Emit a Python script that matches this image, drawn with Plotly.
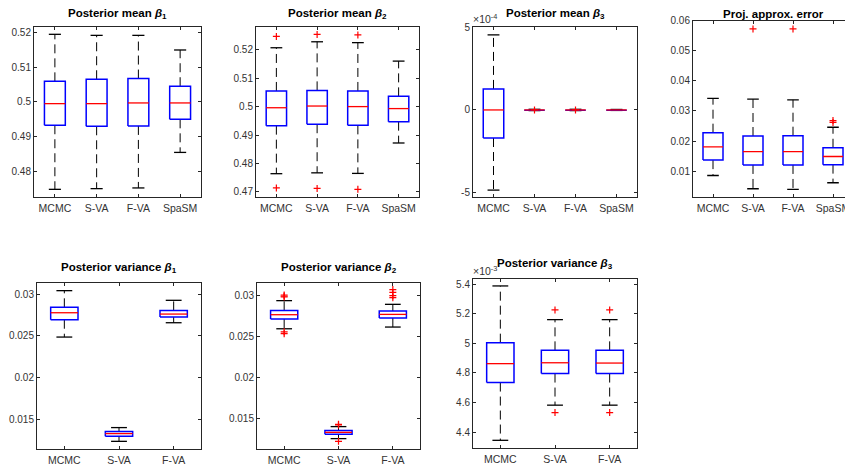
import plotly.graph_objects as go

W, H = 853, 473

# ---------------- data ----------------
cats4 = ["MCMC", "S-VA", "F-VA", "SpaSM"]
cats3 = ["MCMC", "S-VA", "F-VA"]

# Posterior mean beta_1
m1_upper = [0.5194, 0.5191, 0.5191, 0.5149]
m1_q3 = [0.5059, 0.5065, 0.5067, 0.5045]
m1_med = [0.4995, 0.4995, 0.4997, 0.4997]
m1_q1 = [0.4933, 0.4930, 0.4931, 0.4950]
m1_lower = [0.4749, 0.4751, 0.4753, 0.4855]
m1_out = [[], [], [], []]

# Posterior mean beta_2
m2_upper = [0.5207, 0.5228, 0.5225, 0.5160]
m2_q3 = [0.5055, 0.5057, 0.5055, 0.5036]
m2_med = [0.4996, 0.5002, 0.5000, 0.4993]
m2_q1 = [0.4933, 0.4938, 0.4934, 0.4947]
m2_lower = [0.4764, 0.4767, 0.4765, 0.4872]
m2_out = [[0.5247, 0.4714], [0.5254, 0.4712], [0.5252, 0.4709], []]

# Posterior mean beta_3
m3_upper = [4.57e-4, 0.04e-4, 0.04e-4, 0.03e-4]
m3_q3 = [1.28e-4, 0.02e-4, 0.02e-4, 0.02e-4]
m3_med = [0.0, 0.0, 0.0, 0.0]
m3_q1 = [-1.71e-4, -0.02e-4, -0.02e-4, -0.02e-4]
m3_lower = [-4.88e-4, -0.04e-4, -0.04e-4, -0.03e-4]
m3_out = [[], [0.0], [0.0], []]

# Projection approximation error
pe_upper = [0.0342, 0.0339, 0.0337, 0.0246]
pe_q3 = [0.0228, 0.0217, 0.0218, 0.0178]
pe_med = [0.0181, 0.0165, 0.0165, 0.0149]
pe_q1 = [0.0137, 0.0121, 0.0121, 0.0122]
pe_lower = [0.0086, 0.0042, 0.0040, 0.0062]
pe_out = [[], [0.0572], [0.0572], [0.0268, 0.0262]]

# Posterior variance beta_1
v1_upper = [0.03044, 0.01400, 0.02928]
v1_q3 = [0.02844, 0.01352, 0.02807]
v1_med = [0.02779, 0.01328, 0.02763]
v1_q1 = [0.02695, 0.01295, 0.02727]
v1_lower = [0.02487, 0.01235, 0.02659]
v1_out = [[], [], []]

# Posterior variance beta_2
v2_upper = [0.02939, 0.01398, 0.02894]
v2_q3 = [0.02820, 0.01349, 0.02812]
v2_med = [0.02767, 0.01328, 0.02771]
v2_q1 = [0.02714, 0.01304, 0.02726]
v2_lower = [0.02595, 0.01251, 0.02616]
v2_out = [[0.03008, 0.02995, 0.02984, 0.02558, 0.02535],
          [0.01426, 0.01418, 0.01218],
          [0.03074, 0.03040, 0.03000, 0.02975]]

# Posterior variance beta_3
v3_upper = [5.389e-3, 5.161e-3, 5.161e-3]
v3_q3 = [5.005e-3, 4.953e-3, 4.953e-3]
v3_med = [4.863e-3, 4.869e-3, 4.867e-3]
v3_q1 = [4.735e-3, 4.796e-3, 4.796e-3]
v3_lower = [4.344e-3, 4.582e-3, 4.582e-3]
v3_out = [[], [5.227e-3, 4.532e-3], [5.227e-3, 4.532e-3]]

# tick labels
t1_vals = [0.48, 0.49, 0.50, 0.51, 0.52]
t1_text = ["0.48", "0.49", "0.5", "0.51", "0.52"]
t2_vals = [0.47, 0.48, 0.49, 0.50, 0.51, 0.52]
t2_text = ["0.47", "0.48", "0.49", "0.5", "0.51", "0.52"]
t3_vals = [-5e-4, 0.0, 5e-4]
t3_text = ["-5", "0", "5"]
t4_vals = [0.01, 0.02, 0.03, 0.04, 0.05, 0.06]
t4_text = ["0.01", "0.02", "0.03", "0.04", "0.05", "0.06"]
t5_vals = [0.015, 0.02, 0.025, 0.03]
t5_text = ["0.015", "0.02", "0.025", "0.03"]
t7_vals = [4.4e-3, 4.6e-3, 4.8e-3, 5.0e-3, 5.2e-3, 5.4e-3]
t7_text = ["4.4", "4.6", "4.8", "5", "5.2", "5.4"]

titles = [
    "<b>Posterior mean <i>β</i><sub>1</sub></b>",
    "<b>Posterior mean <i>β</i><sub>2</sub></b>",
    "<b>Posterior mean <i>β</i><sub>3</sub></b>",
    "<b>Proj. approx. error</b>",
    "<b>Posterior variance <i>β</i><sub>1</sub></b>",
    "<b>Posterior variance <i>β</i><sub>2</sub></b>",
    "<b>Posterior variance <i>β</i><sub>3</sub></b>",
]
exp_labels = ["", "", "×10<sup>-4</sup>", "", "", "", "×10<sup>-3</sup>"]

# ---------------- layout (screen pixel boxes: left, right, top, bottom) ----------------
OFF = 8  # page body margin offset of the figure on screen
boxes = [
    (34, 201, 27, 197),
    (256, 419, 27, 197),
    (473, 637, 27, 197),
    (693, 853, 20.5, 197),
    (37, 201, 283, 449),
    (257, 420, 283, 449),
    (473, 637, 279, 448),
]
title_shift = [4, 4, 4, -1.5, 6, 6, 6]
yranges = [
    [0.4727, 0.5215],
    [0.4682, 0.5280],
    [-5.3e-4, 5.05e-4],
    [0.00147, 0.0600],
    [0.01143, 0.03136],
    [0.01124, 0.03155],
    [4.292e-3, 5.436e-3],
]

panels = [
    (cats4, m1_upper, m1_q3, m1_med, m1_q1, m1_lower, m1_out, t1_vals, t1_text),
    (cats4, m2_upper, m2_q3, m2_med, m2_q1, m2_lower, m2_out, t2_vals, t2_text),
    (cats4, m3_upper, m3_q3, m3_med, m3_q1, m3_lower, m3_out, t3_vals, t3_text),
    (cats4, pe_upper, pe_q3, pe_med, pe_q1, pe_lower, pe_out, t4_vals, t4_text),
    (cats3, v1_upper, v1_q3, v1_med, v1_q1, v1_lower, v1_out, t5_vals, t5_text),
    (cats3, v2_upper, v2_q3, v2_med, v2_q1, v2_lower, v2_out, t5_vals, t5_text),
    (cats3, v3_upper, v3_q3, v3_med, v3_q1, v3_lower, v3_out, t7_vals, t7_text),
]

BW = 0.25   # half box width
CW = 0.145  # half cap width
FONT = "Liberation Sans Narrow, Arial Narrow, Liberation Sans, Arial, sans-serif"
AXC = "#262626"
TXC = "#333333"


def fx(p):
    return min(max((p - OFF) / W, 0.0), 1.0)


def fy(p):
    return min(max(1 - (p - OFF) / H, 0.0), 1.0)


fig = go.Figure()
layout = dict(
    width=W, height=H,
    margin=dict(l=0, r=0, t=0, b=0, autoexpand=False),
    paper_bgcolor="white", plot_bgcolor="white",
    showlegend=False,
    font=dict(family=FONT, size=11, color=AXC),
)
annotations = []

for k, (cats, up, q3, med, q1, lo, outs, tv, tt) in enumerate(panels):
    n = k + 1
    xs = "x" if n == 1 else f"x{n}"
    ys = "y" if n == 1 else f"y{n}"
    xname = "xaxis" if n == 1 else f"xaxis{n}"
    yname = "yaxis" if n == 1 else f"yaxis{n}"
    pos = list(range(1, len(cats) + 1))

    wx, wy, bx, by, mx, my, cx, cy, ox, oy = [], [], [], [], [], [], [], [], [], []
    for p, a, b, c, d, e, o in zip(pos, up, q3, med, q1, lo, outs):
        wx += [p, p, None, p, p, None]
        wy += [b, a, None, d, e, None]
        bx += [p - BW, p + BW, p + BW, p - BW, p - BW, None]
        by += [d, d, b, b, d, None]
        mx += [p - BW, p + BW, None]
        my += [c, c, None]
        cx += [p - CW, p + CW, None, p - CW, p + CW, None]
        cy += [a, a, None, e, e, None]
        ox += [p] * len(o)
        oy += list(o)

    fig.add_trace(go.Scatter(x=wx, y=wy, mode="lines", xaxis=xs, yaxis=ys,
                             line=dict(color="black", width=1, dash="9px,5px"),
                             hoverinfo="skip"))
    fig.add_trace(go.Scatter(x=cx, y=cy, mode="lines", xaxis=xs, yaxis=ys,
                             line=dict(color="black", width=1.3), hoverinfo="skip"))
    fig.add_trace(go.Scatter(x=bx, y=by, mode="lines", xaxis=xs, yaxis=ys,
                             line=dict(color="#0000ff", width=1.5), hoverinfo="skip"))
    fig.add_trace(go.Scatter(x=mx, y=my, mode="lines", xaxis=xs, yaxis=ys,
                             line=dict(color="#ff0000", width=1.3), hoverinfo="skip"))
    if ox:
        fig.add_trace(go.Scatter(x=ox, y=oy, mode="markers", xaxis=xs, yaxis=ys,
                                 marker=dict(symbol="cross-thin", size=5,
                                             color="#ff0000",
                                             line=dict(color="#ff0000", width=1.2)),
                                 hoverinfo="skip"))

    l, r, t, b_ = boxes[k]
    common = dict(showline=True, linecolor=AXC, linewidth=1, mirror="ticks",
                  ticks="inside", ticklen=3, tickcolor=AXC, tickwidth=1,
                  showgrid=False, zeroline=False, automargin=False)
    layout[xname] = dict(domain=[fx(l), fx(r)], anchor=ys,
                         range=[0.5, len(cats) + 0.5],
                         tickvals=pos, ticktext=cats, ticklabelstandoff=1,
                         tickfont=dict(family=FONT, size=10.5, color=TXC), **common)
    layout[yname] = dict(domain=[fy(b_), fy(t)], anchor=xs,
                         range=yranges[k], tickvals=tv, ticktext=tt,
                         ticklabelstandoff=0,
                         tickfont=dict(family=FONT, size=10, color=TXC), **common)

    annotations.append(dict(text=titles[k], xref="paper", yref="paper",
                            x=(fx(l) + fx(r)) / 2, y=fy(t),
                            xanchor="center", yanchor="bottom",
                            yshift=title_shift[k],
                            showarrow=False,
                            font=dict(family=FONT, size=11.5, color="black")))
    if exp_labels[k]:
        annotations.append(dict(text=exp_labels[k], xref="paper", yref="paper",
                                x=fx(l), y=fy(t), xshift=-2,
                                xanchor="left", yanchor="bottom", showarrow=False,
                                font=dict(family=FONT, size=10.5, color=TXC)))

layout["annotations"] = annotations
fig.update_layout(**layout)
fig.write_html("out.html")
